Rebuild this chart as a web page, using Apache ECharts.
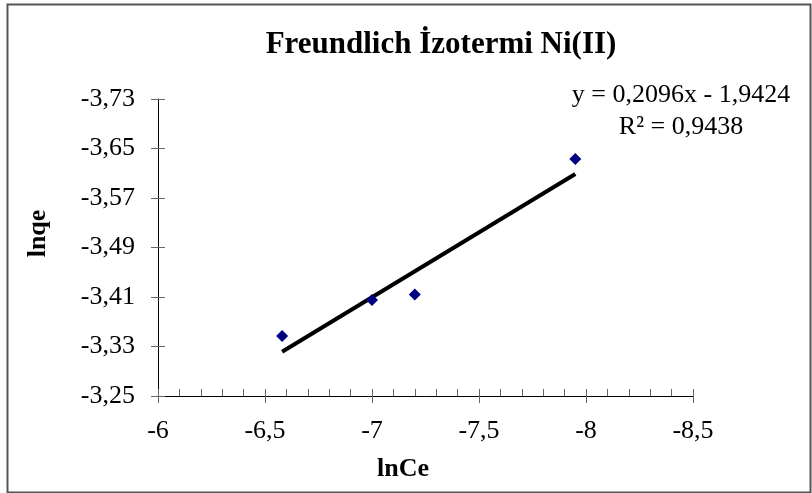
<!DOCTYPE html>
<html>
<head>
<meta charset="utf-8">
<script src="https://cdn.jsdelivr.net/npm/echarts@6/dist/echarts.min.js"></script>
<style>
  html, body { margin: 0; padding: 0; background: #fff; }
  #chart { width: 812px; height: 493px; }
</style>
</head>
<body>
<div id="chart"></div>
<script>
// lnCe, lnqe
var lnCe = [-6.58, -7.00, -7.20, -7.95];
var lnqe = [-3.347, -3.405, -3.414, -3.633];
// trendline as printed on the chart
var slope = 0.2096;
var intercept = -1.9424;
var eqText = ['y = 0,2096x - 1,9424', 'R² = 0,9438'];

var points = lnCe.map(function (x, i) { return [x, lnqe[i]]; });
var x0 = Math.max.apply(null, lnCe), x1 = Math.min.apply(null, lnCe);
var trend = [[x0, slope * x0 + intercept], [x1, slope * x1 + intercept]];

var font = 'Liberation Serif';
function comma(v, d) {
  return (d == null ? String(v) : v.toFixed(d)).replace('.', ',');
}

var chart = echarts.init(document.getElementById('chart'));

var xBase = { type: 'value', min: -8.5, max: -6, interval: 0.5, inverse: true, position: 'bottom', splitLine: { show: false } };
var yBase = { type: 'value', min: -3.73, max: -3.25, interval: 0.08, inverse: true, position: 'left', splitLine: { show: false } };

chart.setOption({
  animation: false,
  title: {
    text: 'Freundlich İzotermi Ni(II)',
    left: 436, top: 24, textAlign: 'center',
    textStyle: { fontFamily: font, fontSize: 31, fontWeight: 'bold', color: '#000' }
  },
  grid: { left: 158, right: 119, top: 99, bottom: 97 },
  xAxis: [
    Object.assign({}, xBase, {
      name: 'lnCe', nameLocation: 'middle', nameGap: 60,
      nameTextStyle: { fontFamily: font, fontSize: 26, fontWeight: 'bold', color: '#000', padding: [0, 45, 0, 0] },
      axisLine: { lineStyle: { color: '#000', width: 1 } },
      axisTick: { length: 7, lineStyle: { color: '#666' } },
      axisLabel: { margin: 22, fontFamily: font, fontSize: 26, color: '#000',
        formatter: function (v) { return comma(v); } }
    }),
    Object.assign({}, xBase, {
      axisLine: { show: false }, axisLabel: { show: false },
      axisTick: { inside: true, length: 7, lineStyle: { color: '#666' } },
      minorTick: { show: true, splitNumber: 5, length: 7, lineStyle: { color: '#666' } }
    })
  ],
  yAxis: [
    Object.assign({}, yBase, {
      name: 'lnqe', nameLocation: 'middle', nameGap: 107,
      nameTextStyle: { fontFamily: font, fontSize: 26, fontWeight: 'bold', color: '#000', padding: [0, 0, 0, 28] },
      axisLine: { lineStyle: { color: '#000', width: 1 } },
      axisTick: { length: 7, lineStyle: { color: '#666' } },
      axisLabel: { margin: 23, fontFamily: font, fontSize: 26, color: '#000',
        formatter: function (v) { return comma(v, 2); } }
    }),
    Object.assign({}, yBase, {
      axisLine: { show: false }, axisLabel: { show: false },
      axisTick: { inside: true, length: 7, lineStyle: { color: '#666' } }
    })
  ],
  graphic: [
    { type: 'rect', left: 5, top: 2, shape: { width: 803, height: 488 },
      style: { fill: 'none', stroke: '#555', lineWidth: 2 }, silent: true },
    { type: 'text', x: 681, y: 95, style: { text: eqText[0], textAlign: 'center', textVerticalAlign: 'middle',
      font: '26px "' + font + '"', fill: '#000' } },
    { type: 'text', x: 681, y: 127, style: { text: eqText[1], textAlign: 'center', textVerticalAlign: 'middle',
      font: '26px "' + font + '"', fill: '#000' } }
  ],
  series: [
    {
      type: 'line', data: trend, symbol: 'none',
      lineStyle: { color: '#000', width: 4 }, z: 2
    },
    {
      type: 'scatter', data: points, symbol: 'diamond', symbolSize: 12,
      itemStyle: { color: '#000080', opacity: 1 }, z: 3
    }
  ]
});
</script>
</body>
</html>
